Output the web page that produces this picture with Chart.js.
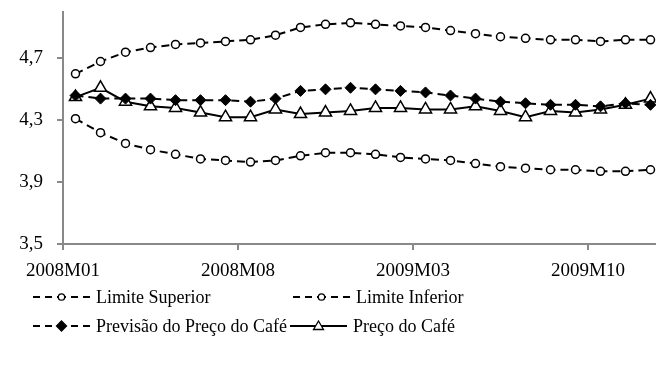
<!DOCTYPE html>
<html>
<head>
<meta charset="utf-8">
<script src="https://cdn.jsdelivr.net/npm/chart.js@4/dist/chart.umd.min.js"></script>
<style>
    html, body { margin: 0; padding: 0; background: #fff; }
    #wrap { width: 656px; height: 374px; position: relative; }
</style>
</head>
<body>
<div id="wrap"><canvas id="coffeeChart"></canvas></div>
<script>
// Meses (categorias)
const months = [
    '2008M01', '2008M02', '2008M03', '2008M04', '2008M05', '2008M06',
    '2008M07', '2008M08', '2008M09', '2008M10', '2008M11', '2008M12',
    '2009M01', '2009M02', '2009M03', '2009M04', '2009M05', '2009M06',
    '2009M07', '2009M08', '2009M09', '2009M10', '2009M11', '2009M12'
];

// Séries
const upperLimit = [
    4.60, 4.68, 4.74, 4.77, 4.79, 4.80, 4.81, 4.82, 4.85, 4.90, 4.92, 4.93,
    4.92, 4.91, 4.90, 4.88, 4.86, 4.84, 4.83, 4.82, 4.82, 4.81, 4.82, 4.82
];
const lowerLimit = [
    4.31, 4.22, 4.15, 4.11, 4.08, 4.05, 4.04, 4.03, 4.04, 4.07, 4.09, 4.09,
    4.08, 4.06, 4.05, 4.04, 4.02, 4.00, 3.99, 3.98, 3.98, 3.97, 3.97, 3.98
];
const forecast = [
    4.46, 4.44, 4.44, 4.44, 4.43, 4.43, 4.43, 4.42, 4.44, 4.49, 4.50, 4.51,
    4.50, 4.49, 4.48, 4.46, 4.44, 4.42, 4.41, 4.40, 4.40, 4.39, 4.41, 4.40
];
const price = [
    4.45, 4.51, 4.42, 4.39, 4.38, 4.35, 4.32, 4.32, 4.37, 4.34, 4.35, 4.36,
    4.38, 4.38, 4.37, 4.37, 4.39, 4.36, 4.32, 4.36, 4.35, 4.37, 4.40, 4.44
];

// Rótulos dos eixos
const xTickIndex = [0, 7, 14, 21];
const yTicks = [3.5, 3.9, 4.3, 4.7];

// Cada ponto fica no centro do seu mês
function toPoints(values) {
    return values.map((v, i) => ({ x: i + 0.5, y: v }));
}

const axisColor = '#898989';
const serif = '"Liberation Serif", "Times New Roman", serif';

// Legenda desenhada à mão (duas colunas, linha + marcador)
const legendItems = [
    { label: 'Limite Superior', dashed: true, marker: 'circle', x: 33, y: 297 },
    { label: 'Limite Inferior', dashed: true, marker: 'circle', x: 293, y: 297 },
    { label: 'Previsão do Preço do Café', dashed: true, marker: 'diamond', x: 33, y: 326 },
    { label: 'Preço do Café', dashed: false, marker: 'triangle', x: 290, y: 326 }
];

const legendPlugin = {
    id: 'handLegend',
    afterDraw(chart) {
        const ctx = chart.ctx;
        ctx.save();
        legendItems.forEach(item => {
            const x1 = item.x, x2 = item.x + 57, cx = (x1 + x2) / 2, cy = item.y;
            ctx.strokeStyle = '#000';
            ctx.lineWidth = 2;
            if (item.dashed) {
                // dois traços de cada lado do marcador
                ctx.setLineDash([7, 5]);
                ctx.beginPath();
                ctx.moveTo(x1, cy);
                ctx.lineTo(cx - 3, cy);
                ctx.stroke();
                ctx.beginPath();
                ctx.moveTo(x2, cy);
                ctx.lineTo(cx + 3, cy);
                ctx.stroke();
            } else {
                ctx.setLineDash([]);
                ctx.beginPath();
                ctx.moveTo(x1, cy);
                ctx.lineTo(x2, cy);
                ctx.stroke();
            }
            ctx.setLineDash([]);
            ctx.lineWidth = 1.3;
            ctx.beginPath();
            if (item.marker === 'circle') {
                ctx.arc(cx, cy, 3.2, 0, Math.PI * 2);
                ctx.fillStyle = '#fff';
            } else if (item.marker === 'diamond') {
                ctx.moveTo(cx, cy - 5);
                ctx.lineTo(cx + 5, cy);
                ctx.lineTo(cx, cy + 5);
                ctx.lineTo(cx - 5, cy);
                ctx.closePath();
                ctx.fillStyle = '#000';
            } else {
                ctx.moveTo(cx, cy - 5);
                ctx.lineTo(cx + 5, cy + 3.5);
                ctx.lineTo(cx - 5, cy + 3.5);
                ctx.closePath();
                ctx.fillStyle = '#fff';
            }
            ctx.fill();
            ctx.stroke();

            ctx.fillStyle = '#000';
            ctx.font = '18px ' + serif;
            ctx.textBaseline = 'middle';
            ctx.textAlign = 'left';
            ctx.fillText(item.label, x2 + 6, cy + 1);
        });
        ctx.restore();
    }
};

const ctx = document.getElementById('coffeeChart').getContext('2d');
const chart = new Chart(ctx, {
    type: 'line',
    data: {
        datasets: [
            {
                label: 'Limite Superior',
                data: toPoints(upperLimit),
                borderColor: '#000',
                borderWidth: 2,
                borderDash: [8, 5],
                pointStyle: 'circle',
                pointRadius: 4,
                pointBorderWidth: 1.5,
                pointBackgroundColor: '#fff',
                pointBorderColor: '#000',
                order: 3
            },
            {
                label: 'Limite Inferior',
                data: toPoints(lowerLimit),
                borderColor: '#000',
                borderWidth: 2,
                borderDash: [8, 5],
                pointStyle: 'circle',
                pointRadius: 4,
                pointBorderWidth: 1.5,
                pointBackgroundColor: '#fff',
                pointBorderColor: '#000',
                order: 3
            },
            {
                label: 'Previsão do Preço do Café',
                data: toPoints(forecast),
                borderColor: '#000',
                borderWidth: 2,
                borderDash: [8, 5],
                pointStyle: 'rectRot',
                pointRadius: 5.5,
                pointBorderWidth: 1,
                pointBackgroundColor: '#000',
                pointBorderColor: '#000',
                order: 1
            },
            {
                label: 'Preço do Café',
                data: toPoints(price),
                borderColor: '#000',
                borderWidth: 2,
                pointStyle: 'triangle',
                pointRadius: 7,
                pointBorderWidth: 1.5,
                pointBackgroundColor: '#fff',
                pointBorderColor: '#000',
                order: 2
            }
        ]
    },
    options: {
        responsive: true,
        maintainAspectRatio: false,
        animation: false,
        layout: { autoPadding: false, padding: { top: 12, left: 0, right: 0, bottom: 90 } },
        elements: { line: { tension: 0 } },
        plugins: {
            legend: { display: false },
            tooltip: { enabled: false }
        },
        scales: {
            x: {
                type: 'linear',
                min: 0,
                max: 23.72,
                afterBuildTicks: scale => {
                    scale.ticks = xTickIndex.map(v => ({ value: v }));
                },
                afterFit: scale => {
                    scale.height = 40;
                    scale.paddingLeft = 0;
                    scale.paddingRight = 0;
                },
                ticks: {
                    color: '#000',
                    padding: 10,
                    maxRotation: 0,
                    font: { family: serif, size: 19 },
                    callback: v => months[v]
                },
                grid: {
                    drawOnChartArea: false,
                    drawTicks: true,
                    tickLength: 6,
                    color: axisColor,
                    lineWidth: 2
                },
                border: { color: axisColor, width: 2 }
            },
            y: {
                min: 3.5,
                max: 5.0,
                afterBuildTicks: scale => {
                    scale.ticks = yTicks.map(v => ({ value: v }));
                },
                afterFit: scale => {
                    scale.width = 63;
                    scale.paddingTop = 0;
                    scale.paddingBottom = 0;
                },
                ticks: {
                    color: '#000',
                    padding: 14,
                    font: { family: serif, size: 19 },
                    callback: v => v.toFixed(1).replace('.', ',')
                },
                grid: {
                    drawOnChartArea: false,
                    drawTicks: true,
                    tickLength: 6,
                    color: axisColor,
                    lineWidth: 2
                },
                border: { color: axisColor, width: 2 }
            }
        }
    },
    plugins: [legendPlugin]
});
</script>
</body>
</html>
